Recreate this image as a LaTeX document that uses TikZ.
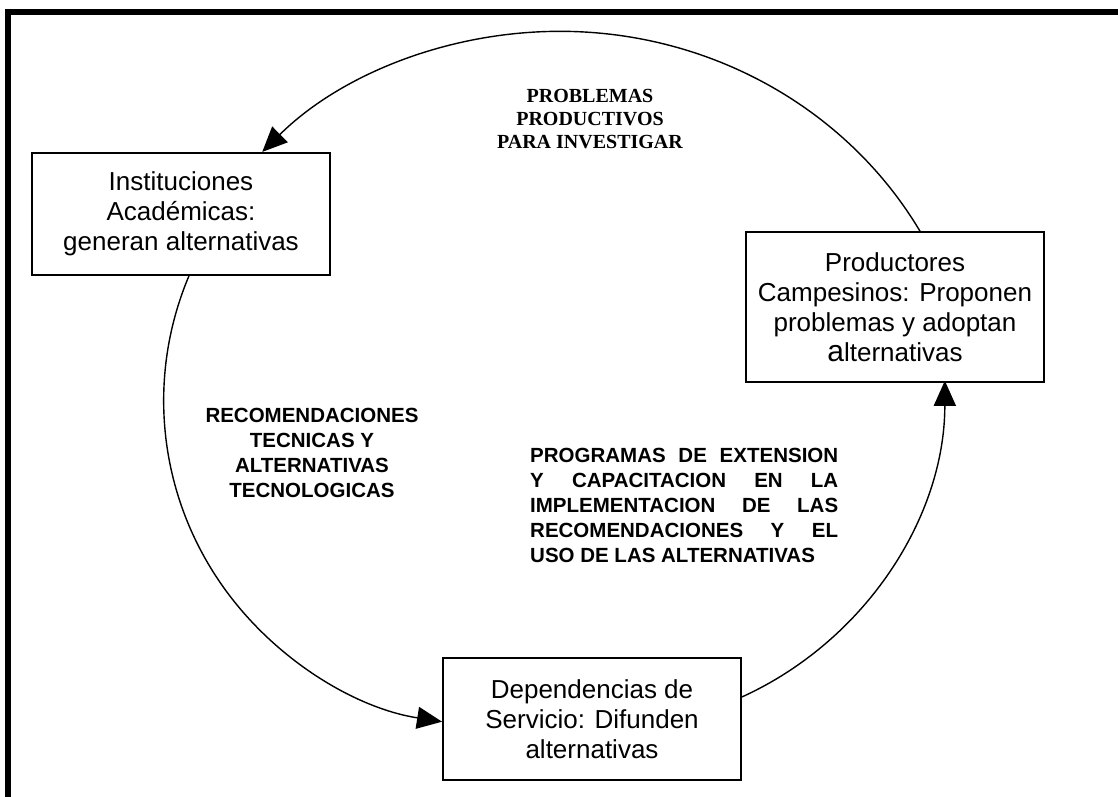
\documentclass[tikz,border=0pt]{standalone}
\usepackage{fontspec}
\setmainfont{Liberation Sans}
\newfontfamily\romana{Liberation Serif}
\usetikzlibrary{arrows.meta}

\begin{document}
\begin{tikzpicture}[x=1pt,y=-1pt,
    caja/.style={draw,line width=1.6pt,minimum width=298pt,minimum height=122pt,
      inner sep=0pt,align=center,font=\fontsize{26}{30}\selectfont},
    flecha/.style={line width=1.4pt,-{Triangle[length=25pt,width=22pt]}},
    rotulo/.style={inner sep=0pt,font=\bfseries\fontsize{20.5}{25}\selectfont}]
  \useasboundingbox (0,0) rectangle (1118,796);
  \clip (0,0) rectangle (1118,796);
  \draw[line width=6pt] (8,805) -- (8,12) -- (1130,12);

  \node[caja] (inst) at (181,214) {Instituciones\\Académicas:\\generan alternativas};
  \node[caja,minimum height=150pt] (prod) at (895,307)
    {Productores\\Campesinos: Proponen\\problemas y adoptan\\{\fontsize{30}{30}\selectfont a}lternativas};
  \node[caja] (dep) at (592,719) {Dependencias de\\Servicio: Difunden\\alternativas};

  % ciclo
  \draw[flecha] ([xshift=25pt]prod.north)
    arc[start angle=29.6,end angle=136,x radius=414pt,y radius=395pt];
  \draw[flecha] ([xshift=8pt]inst.south)
    arc[start angle=157.4,end angle=261,x radius=330pt,y radius=325pt];
  \draw[flecha] ([yshift=22pt]dep.east)
    arc[start angle=-65.7,end angle=0,x radius=345pt,y radius=347pt];

  \node[rotulo,font=\romana\bfseries\fontsize{20}{23}\selectfont,align=center,anchor=north]
    (problemas) at (590,89) {PROBLEMAS\\PRODUCTIVOS\\PARA INVESTIGAR};
  \node[rotulo,align=center,anchor=north] (recom) at (312,408)
    {RECOMENDACIONES\\TECNICAS Y\\ALTERNATIVAS\\TECNOLOGICAS};
  \node[rotulo,align=left,anchor=north west] (progr) at (530,448)
    {\makebox[308pt][s]{PROGRAMAS DE EXTENSION}\\
     \makebox[308pt][s]{Y CAPACITACION EN LA}\\
     \makebox[308pt][s]{IMPLEMENTACION DE LAS}\\
     \makebox[308pt][s]{RECOMENDACIONES Y EL}\\
     USO DE LAS ALTERNATIVAS};
\end{tikzpicture}
\end{document}
